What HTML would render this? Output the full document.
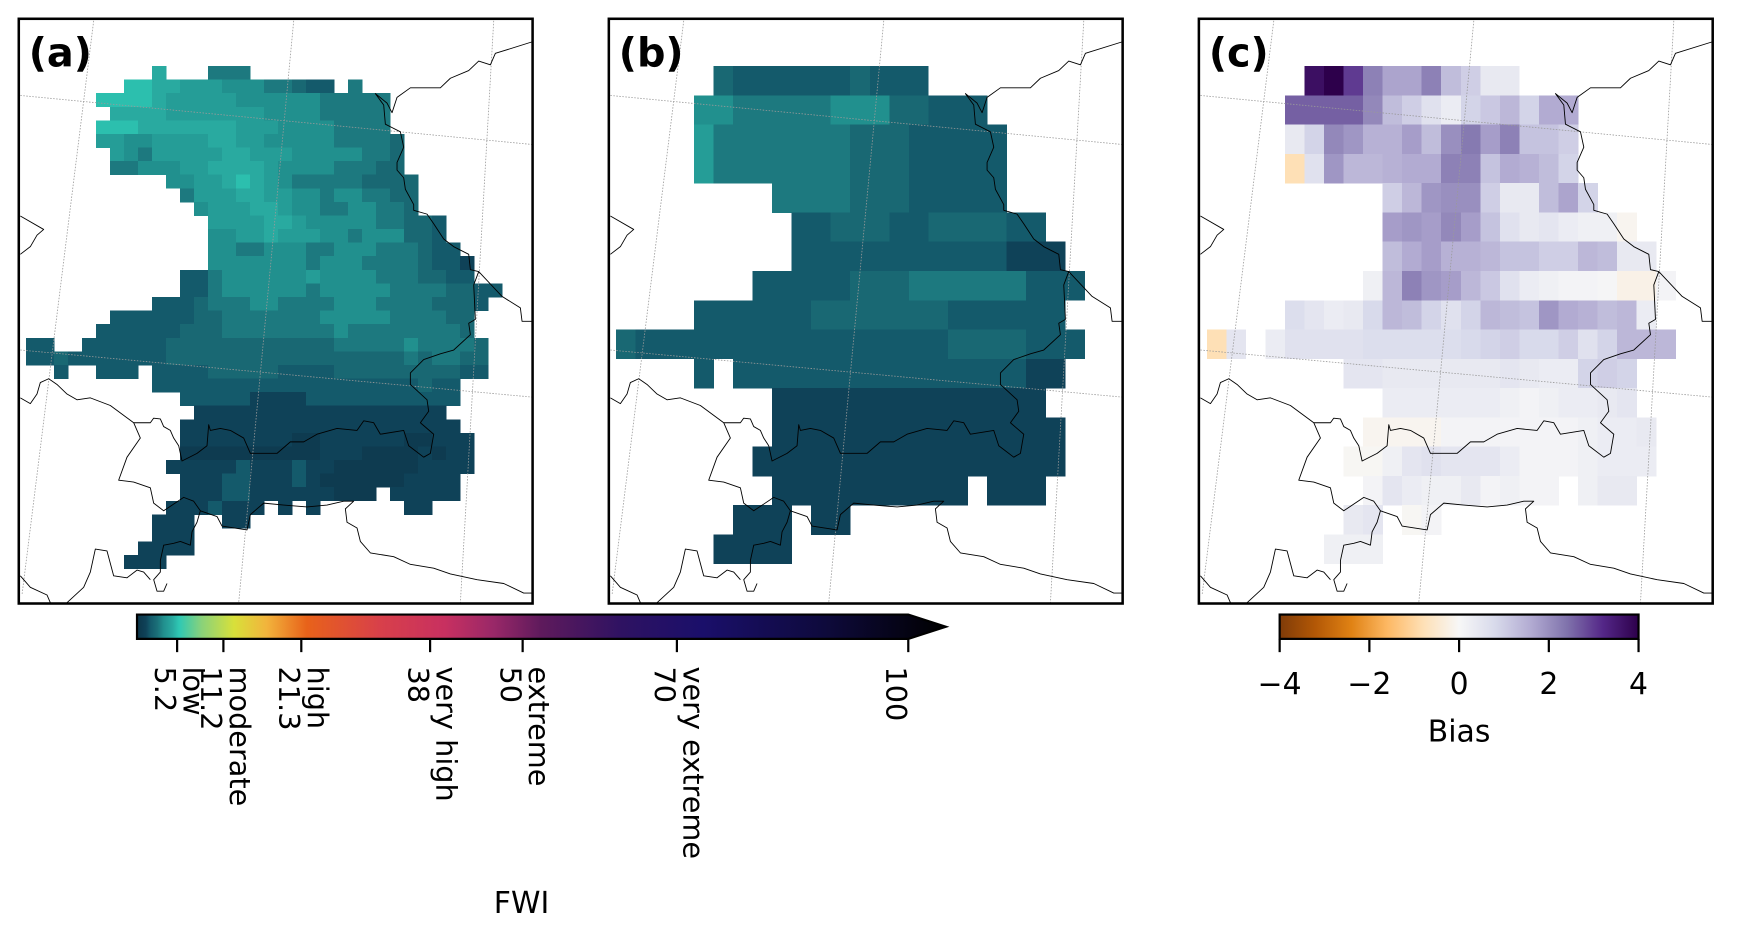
<!DOCTYPE html>
<html><head><meta charset="utf-8">
<style>
html,body{margin:0;padding:0;background:#fff;}
svg{display:block;}
text{font-family:"DejaVu Sans","Liberation Sans",sans-serif;fill:#000;}
</style></head>
<body>
<svg id="fig" xmlns="http://www.w3.org/2000/svg" width="1737" height="934" viewBox="0 0 1572 845" preserveAspectRatio="none">
<defs>
<clipPath id="clipA"><rect x="17" y="17" width="465" height="529"/></clipPath>
<clipPath id="clipB"><rect x="551" y="17" width="465" height="529"/></clipPath>
<clipPath id="clipC"><rect x="1085" y="17" width="465" height="529"/></clipPath>
<linearGradient id="gradFWI" x1="0" x2="1" y1="0" y2="0"></linearGradient>
<linearGradient id="gradBias" x1="0" x2="1" y1="0" y2="0"></linearGradient>
</defs>
</svg>
<script>
// ---------- colour map data ----------
const fwiStopVals=[0,1.1,1.65,2.5,3.3,4.4,5.2,8,12,16,21,30,38,44,50,60,70,85,100];
const fwiStopCols=['#0c3448','#0f4258','#145a6b','#1b6f78','#21908e','#29aaa0','#2ec8b4','#8ad27a','#d8e03a','#f2b43c','#e8621a','#d8404a','#c83060','#9a2868','#5e1a5c','#2e1262','#1a0f6a','#0e0a3c','#000000'];
const biasStopVals=[-4,-3.2,-2.4,-1.6,-0.8,0,0.8,1.6,2.4,3.2,4];
const biasStopCols=['#7f3b08','#b35806','#e08214','#fdb863','#fee0b6','#f7f7f7','#d8daeb','#b2abd2','#8073ac','#542788','#2d004b'];
// ---------- colorbar ticks ----------
const fwiTicks=[5.2,11.2,21.3,38,50,70,100];
const fwiTickLabels=['5.2','11.2','21.3','38','50','70','100'];
const fwiTickNames=['low','moderate','high','very high','extreme','very extreme',''];
const biasTicks=[-4,-2,0,2,4];
const biasTickLabels=['\u22124','\u22122','0','2','4'];
// ---------- panel (a) data: rows of [startColumn, level digits]; level -> FWI = digit*0.55 ----------
const aRows=[
 [[9,"8"],[13,"555"]],
 [[7,"998877766655433"],[23,"5"]],
 [[5,"999987777766666655555"]],
 [[6,"88887777777666655555"]],
 [[5,"999888888877766665555"]],
 [[5,"7766777788776666655554"]],
 [[6,"765777778877766666554"]],
 [[6,"556667788887666655544"]],
 [[10,"667789876555554444"]],
 [[11,"57778877665665544"]],
 [[12,"6777887665566554"]],
 [[13,"77778876666655443"]],
 [[13,"66778777665666443"]],
 [[13,"665566655666555433"]],
 [[13,"6666666566655554332"]],
 [[11,"335666666766665554433"]],
 [[11,"33566666656666655554433"]],
 [[9,"333455566555566655554443"]],
 [[6,"33333344555555566666555544"]],
 [[5,"333333444555555556555555554"]],
 [[0,"33"],[4,"33333344444444444455555655554"]],
 [[0,"334333333344444444444444444545544"]],
 [[2,"3"],[5,"333"],[9,"333344444333344444444433"]],
 [[9,"3333333333333333333433"]],
 [[11,"33333222233333333333"]],
 [[12,"222222222222222222"]],
 [[11,"22222222222222222222"]],
 [[11,"222222221122222211222"]],
 [[11,"111111111122211112122"]],
 [[10,"2222232223221111112222"]],
 [[11,"22233222321111112222"]],
 [[11,"22233222222111"],[26,"22222"]],
 [[10,"2223222"],[18,"2"],[20,"2"],[27,"22"]],
 [[9,"222"],[14,"22"]],
 [[9,"222"]],
 [[8,"2222"]],
 [[7,"222"]]
];
// ---------- panel (b) data ----------
const bRows=[
 [[5,"43333334333"]],
 [[4,"665555566644333"]],
 [[4,"7555555544433333"]],
 [[4,"7555555544433333"]],
 [[8,"555544433333"]],
 [[9,"3344433444433"]],
 [[9,"33333333333222"]],
 [[7,"33333444555555333"]],
 [[4,"3333334444444333333"]],
 [[0,"433333333333333334444333"]],
 [[4,"3"],[6,"33333333333333322"]],
 [[8,"22222222222222"]],
 [[8,"222222222222222"]],
 [[7,"2222222222222222"]],
 [[8,"2222222222"],[19,"222"]],
 [[6,"222"],[10,"22"]],
 [[5,"2222"]]
];
// ---------- panel (c) data: bias values ----------
const cRows=[
 [[5,[3.7,4.0,3.0,2.2,1.7,1.7,2.2,1.3,1.0,0.4,0.4]]],
 [[4,[2.6,2.6,2.6,2.6,2.1,1.3,1.0,0.6,0.3,0.9,1.1,1.4,0.9,1.6,1.6]]],
 [[4,[0.4,0.9,2.1,1.9,1.5,1.5,1.8,1.3,2.0,2.3,1.8,2.2,1.2,1.2,1.0]]],
 [[4,[-0.8,0.6,1.9,1.4,1.4,1.5,1.6,1.6,2.2,2.2,1.2,1.6,1.5,1.3,0.9]]],
 [[9,[1.0,1.4,1.9,2.0,2.0,1.0,0.4,0.4,1.3,1.7,0.9]]],
 [[9,[1.8,1.9,1.8,2.1,1.8,1.2,0.6,0.4,0.5,0.3,0.2,0.2,-0.1]]],
 [[9,[1.3,1.6,1.8,1.5,1.5,1.4,1.2,1.2,1.0,1.0,1.4,1.3,0.4,0.4]]],
 [[8,[0.2,1.4,2.2,1.9,1.8,1.4,1.1,0.6,0.3,0.2,0.1,0.1,0.05,-0.2,-0.2,0.1]]],
 [[4,[0.7,0.5,0.3,0.4,0.8,1.4,1.3,0.9,0.6,0.9,1.4,1.3,1.2,1.9,1.6,1.5,1.3,1.4,0.3]]],
 [[0,[-0.8,0.5]],[3,[0.3,0.6,0.6,0.6,0.6,0.7,0.7,0.7,0.7,0.7,0.8,0.9,1.0,0.8,0.8,1.0,0.6,0.9,1.4,1.4,1.4]]],
 [[7,[0.5,0.5,0.4,0.4,0.4,0.4,0.4,0.4,0.5,0.4,0.3,0.3,0.9,1.0,0.9]]],
 [[9,[0.3,0.3,0.3,0.3,0.3,0.3,0.2,0.1,0.2,0.3,0.3,0.4,0.5]]],
 [[8,[-0.1,-0.1,-0.1,-0.1,0.1,0.1,0.1,0.1,0.1,0.1,0.1,0.2,0.3,0.3,0.4]]],
 [[7,[-0.05,-0.05,0.2,0.5,0.6,0.5,0.5,0.5,0.3,0.1,0.1,0.1,0.2,0.3,0.3,0.3]]],
 [[8,[0.1,0.5,0.3,0.2,0.2,0.4,0.1,0.2,0.1,0.1]],[19,[0.2,0.4,0.4]]],
 [[7,[0.4,0.5]],[10,[-0.05,0.1]]],
 [[6,[0.2,0.2,0.2]]]
];

const NS='http://www.w3.org/2000/svg';
const svg=document.getElementById('fig');
function mk(tag,attrs,parent){const e=document.createElementNS(NS,tag);for(const k in attrs)e.setAttribute(k,attrs[k]);(parent||svg).appendChild(e);return e;}
function hex(c){return [parseInt(c.slice(1,3),16),parseInt(c.slice(3,5),16),parseInt(c.slice(5,7),16)];}
function interp(v,vals,cols){
  if(v<=vals[0])return cols[0];
  for(let i=1;i<vals.length;i++){if(v<=vals[i]){const t=(v-vals[i-1])/(vals[i]-vals[i-1]);const a=hex(cols[i-1]),b=hex(cols[i]);return 'rgb('+a.map((x,j)=>Math.round(x+(b[j]-x)*t)).join(',')+')';}}
  return cols[cols.length-1];
}
const fwiColor=v=>interp(v,fwiStopVals,fwiStopCols);
const biasColor=v=>interp(v,biasStopVals,biasStopCols);

const SX=0.3017, SY=0.3463;
const panels=[{id:'a',x:17,clip:'clipA',ox:15.38},{id:'b',x:551,clip:'clipB',ox:553.8},{id:'c',x:1085,clip:'clipC',ox:1093.2}];

const borders=[
 "M1545,65 L1435,95 L1420,125 L1385,115 L1355,140 L1300,160 L1270,185 L1180,185 L1140,210 L1125,250 L1110,225 L1075,200 L1100,230 L1105,280 L1150,300 L1160,340 L1140,380 L1140,400 L1160,420 L1165,450 L1190,490 L1190,505 L1230,515 L1250,540 L1280,580 L1310,600 L1355,620 L1360,660 L1385,665 L1455,730 L1510,760 L1515,795 L1545,795",
 "M1385,665 L1370,700 L1375,790 L1355,800 L1360,830 L1310,870 L1270,880 L1220,895 L1180,930 L1180,960 L1230,1000 L1235,1030 L1210,1060 L1250,1090 L1240,1140 L1220,1150 L1175,1120 L1160,1080 L1090,1090 L1070,1060 L1040,1055 L1020,1080 L960,1075 L900,1090 L860,1110 L820,1110 L780,1140 L700,1140 L680,1100 L640,1080 L610,1075 L580,1080 L575,1065 L570,1120 L540,1140 L495,1160 L485,1120 L470,1100 L460,1080 L440,1070 L430,1050 L410,1048 L400,1060 L350,1060 L280,1015 L220,995 L180,1000 L150,985 L120,960 L95,945 L70,955 L60,985 L40,1010 L10,995",
 "M350,1060 L370,1100 L330,1150 L305,1210 L350,1215 L400,1230 L410,1270 L440,1290 L500,1255 L530,1265 L550,1290 L540,1320 L525,1345 L520,1380 L490,1370 L470,1375 L440,1380 L430,1420 L430,1450 L410,1470 L420,1500 L440,1500 L450,1480",
 "M550,1290 L600,1305 L615,1330 L690,1340 L700,1300 L740,1270 L800,1275 L870,1280 L930,1275 L980,1265 L1010,1265 L985,1285 L990,1320 L1020,1335 L1030,1370 L1060,1400 L1130,1410 L1180,1430 L1250,1440 L1300,1455 L1380,1470 L1460,1480 L1520,1505 L1545,1505",
 "M10,520 L80,555 L60,570 L40,600 L10,620",
 "M10,1460 L40,1490 L90,1510 L100,1530",
 "M150,1530 L200,1490 L220,1450 L235,1390 L270,1395 L290,1460 L330,1465 L360,1445 L380,1450 L400,1470"
];
const gridLines=["M10,205 L1545,333","M10,870 L1545,993","M230,10 L15,1510","M830,10 L665,1530","M1430,10 L1330,1530"];

function drawCellsDigit(g,rows,x0,cw,y0,rh,name){
  rows.forEach((segs,r)=>{segs.forEach(([c0,str])=>{for(let i=0;i<str.length;i++){
    const v=parseInt(str[i])*0.55;const c=c0+i;
    const rc=mk('rect',{x:x0+c*cw,y:y0+r*rh,width:cw+1,height:rh+1,fill:fwiColor(v)},g);
    
    
  }});});
}
function drawCellsBias(g,rows,x0,cw,y0,rh){
  rows.forEach((segs,r)=>{segs.forEach(([c0,vals])=>{vals.forEach((v,i)=>{
    const c=c0+i;
    const rc=mk('rect',{x:x0+c*cw,y:y0+r*rh,width:cw+1,height:rh+1,fill:biasColor(v)},g);
    
    
  });});});
}

panels.forEach(p=>{
  const outer=mk('g',{'clip-path':'url(#'+p.clip+')'});
  
  
  const cells=mk('g',{transform:'translate('+p.ox+',15.38) scale('+SX+','+SY+')','shape-rendering':'crispEdges'},outer);
  
  
  if(p.id==='a') drawCellsDigit(cells,aRows,27,42,128,35.5,'fwi-obs');
  if(p.id==='b') drawCellsDigit(cells,bRows,11.6,58.6,128,76.5,'fwi-model');
  if(p.id==='c') drawCellsBias(cells,cRows,-3.4,58.6,128,76.5);
  const geo=mk('g',{transform:'translate('+(15.38+(p.x-17))+',15.38) scale('+SX+','+SY+')'},outer);
  
  
  gridLines.forEach(d=>{const l=mk('path',{d:d,fill:'none',stroke:'#9a9a9a','stroke-width':0.8,'stroke-dasharray':'1.5 1.5','vector-effect':'non-scaling-stroke'},geo);
    
    });
  borders.forEach(d=>{const l=mk('path',{d:d,fill:'none',stroke:'#000','stroke-width':0.9,'stroke-linejoin':'round','vector-effect':'non-scaling-stroke'},geo);
    
    });
  const fr=mk('rect',{x:p.x,y:17,width:465,height:529,fill:'none',stroke:'#000','stroke-width':2.3});
  
  
  const lb=mk('text',{x:p.x+9,y:60,'font-size':36,'font-weight':'bold'});
  lb.textContent='('+p.id+')';
  
  
});

// ---------- FWI colorbar ----------
const gF=document.getElementById('gradFWI');
fwiStopVals.forEach((v,i)=>mk('stop',{offset:(v/100),'stop-color':fwiStopCols[i]},gF));
const xF=v=>124+v*6.98;
const cbF=mk('g',{});


mk('polygon',{points:xF(0)+',556 '+xF(100)+',556 '+(xF(100)+34)+',567 '+xF(100)+',578 '+xF(0)+',578',fill:'url(#gradFWI)',stroke:'#000','stroke-width':2},cbF);
fwiTicks.forEach((v,i)=>{
  const x=xF(v);
  const t=mk('line',{x1:x,x2:x,y1:578,y2:590,stroke:'#000','stroke-width':2},cbF);
  
  
  const n=mk('text',{transform:'translate('+(x-11)+',603) rotate(90)','font-size':26,'dominant-baseline':'central'},cbF);
  n.textContent=fwiTickLabels[i];
  
  
  if(fwiTickNames[i]){
    const m=mk('text',{transform:'translate('+(x+15)+',603) rotate(90)','font-size':26,'dominant-baseline':'central'},cbF);
    m.textContent=fwiTickNames[i];
    
    
  }
});
const fl=mk('text',{x:472,y:826,'font-size':27,'text-anchor':'middle'});
fl.textContent='FWI';



// ---------- Bias colorbar ----------
const gB=document.getElementById('gradBias');
biasStopVals.forEach((v,i)=>mk('stop',{offset:((v+4)/8),'stop-color':biasStopCols[i]},gB));
const xB=v=>1320.5+v*40.6;
const cbB=mk('g',{});


mk('rect',{x:xB(-4),y:556,width:xB(4)-xB(-4),height:22,fill:'url(#gradBias)',stroke:'#000','stroke-width':2},cbB);
biasTicks.forEach((v,i)=>{
  const x=xB(v);
  const t=mk('line',{x1:x,x2:x,y1:578,y2:590,stroke:'#000','stroke-width':2},cbB);
  
  
  const n=mk('text',{x:x,y:628,'font-size':27,'text-anchor':'middle'},cbB);
  n.textContent=biasTickLabels[i];
  
  
});
const bl=mk('text',{x:xB(0),y:671,'font-size':27,'text-anchor':'middle'});
bl.textContent='Bias';


</script>
</body></html>
